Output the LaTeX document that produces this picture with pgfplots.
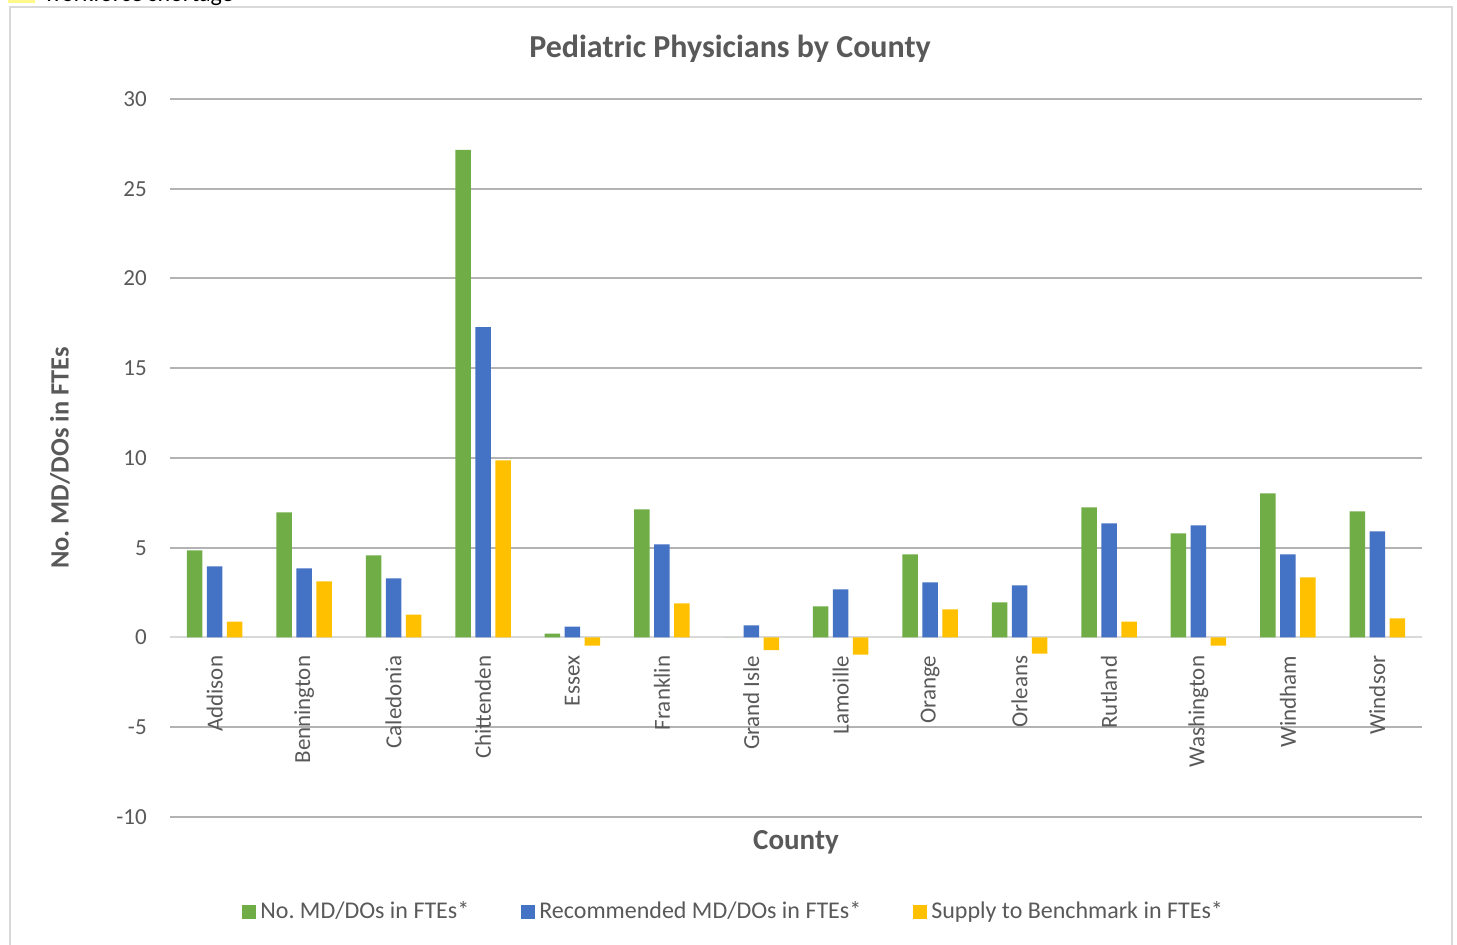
\documentclass[border=0pt]{standalone}
\usepackage{fontspec}
\setmainfont{Carlito}
\usepackage{pgfplots}
\pgfplotsset{compat=1.18}
\definecolor{cgreen}{HTML}{70AD47}
\definecolor{cblue}{HTML}{4472C4}
\definecolor{cyellow}{HTML}{FFC000}
\definecolor{tgray}{HTML}{595959}
\definecolor{ggray}{HTML}{B3B3B3}
\definecolor{lgray}{HTML}{D9D9D9}
\frenchspacing

\begin{document}
\begin{tikzpicture}[x=1pt,y=1pt]
\useasboundingbox (0,0) rectangle (728.5,472.5);
\clip (0,0) rectangle (728.5,472.5);
% outer chart frame and the cut-off legend above it
\draw[lgray, line width=1pt] (5,469) rectangle (726,-5);
\fill[yellow!45] (4,471) rectangle (17.5,476);
\node[anchor=base west, inner sep=0pt, font=\fontsize{12}{14}\selectfont] at (22,471.5) {workforce shortage};

\begin{axis}[
  at={(85pt,64pt)}, anchor=south west,
  scale only axis, width=626pt, height=359pt,
  ybar, bar width=7.75pt, ybar=2.25pt,
  xmin=-0.5, xmax=13.5,
  ymin=-10, ymax=30,
  ytick={-10,-5,0,5,10,15,20,25,30},
  xtick={0,...,13},
  xticklabels={Addison,Bennington,Caledonia,Chittenden,Essex,Franklin,Grand Isle,Lamoille,Orange,Orleans,Rutland,Washington,Windham,Windsor},
  axis x line=middle, axis y line=left,
  x axis line style={-, draw=lgray, line width=1pt},
  y axis line style={draw=none},
  tick style={draw=none},
  ymajorgrids, grid style={ggray, line width=1pt},
  xticklabel style={rotate=90, anchor=east, font=\fontsize{11.5}{13}\selectfont, text=tgray, xshift=-3.5pt},
  yticklabel style={font=\fontsize{11.5}{13}\selectfont, text=tgray, xshift=-6pt},
  /pgf/number format/assume math mode=true,
  legend columns=3,
  legend style={at={(0.451,-0.132)}, anchor=center, draw=none,
    font=\fontsize{12}{14}\selectfont, text=tgray,
    /tikz/every even column/.append style={column sep=24pt}},
  legend image code/.code={\fill[#1] (0pt,-3.5pt) rectangle (7pt,3.5pt);},
]
\addplot[fill=cgreen, draw=none] coordinates {
(0,4.85) (1,6.97) (2,4.57) (3,27.16) (4,0.22) (5,7.14) (6,0) (7,1.73) (8,4.63) (9,1.95) (10,7.25) (11,5.80) (12,8.03) (13,7.03)};
\addplot[fill=cblue, draw=none] coordinates {
(0,3.96) (1,3.85) (2,3.29) (3,17.29) (4,0.61) (5,5.19) (6,0.67) (7,2.68) (8,3.07) (9,2.90) (10,6.36) (11,6.25) (12,4.63) (13,5.91)};
\addplot[fill=cyellow, draw=none] coordinates {
(0,0.89) (1,3.12) (2,1.28) (3,9.87) (4,-0.45) (5,1.90) (6,-0.70) (7,-0.95) (8,1.56) (9,-0.90) (10,0.89) (11,-0.45) (12,3.35) (13,1.06)};
\legend{No. MD/DOs in FTEs*, Recommended MD/DOs in FTEs*, Supply to Benchmark in FTEs*}
\end{axis}

\node[font=\bfseries\fontsize{16}{18}\selectfont, text=tgray] at (365,448) {Pediatric Physicians by County};
\node[font=\bfseries\fontsize{13.2}{15}\selectfont, text=tgray, rotate=90] at (30,243.5) {No. MD/DOs in FTEs};
\node[font=\bfseries\fontsize{14.5}{16}\selectfont, text=tgray] at (398,51.5) {County};
\end{tikzpicture}
\end{document}
